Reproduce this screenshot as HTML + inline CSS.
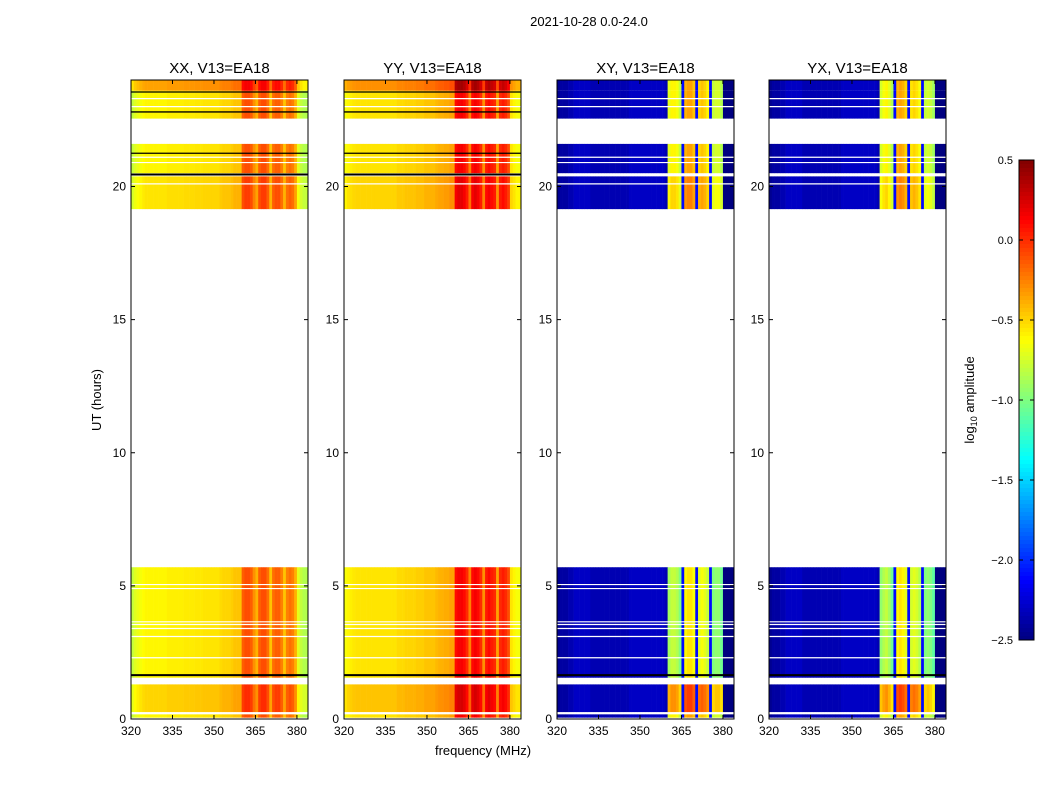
<!DOCTYPE html>
<html><head><meta charset="utf-8"><style>
body{margin:0;background:#fff;}
svg{font-family:"Liberation Sans","DejaVu Sans",sans-serif;}
</style></head><body>
<svg id="fig" width="1050" height="800" xmlns="http://www.w3.org/2000/svg">
<rect width="1050" height="800" fill="#fff"/>
<text x="589" y="26" font-size="13" text-anchor="middle">2021-10-28 0.0-24.0</text>
<text x="483" y="755" font-size="13" text-anchor="middle">frequency (MHz)</text>
<text transform="translate(101,400) rotate(-90)" font-size="13" text-anchor="middle">UT (hours)</text>
<text transform="translate(974,400) rotate(-90)" font-size="13" text-anchor="middle">log<tspan font-size="9" dy="3">10</tspan><tspan dy="-3"> amplitude</tspan></text>
<g id="plots"></g>
</svg>
<script>
// ---- data ----
const freqStart = 320;          // MHz, 1 MHz bins
const xxProfile = [-0.8,-0.72,-0.68,-0.65,-0.62,-0.6,-0.6,-0.6,-0.6,-0.6,-0.6,-0.6,-0.6,-0.58,-0.58,-0.58,-0.58,-0.58,-0.58,-0.57,-0.57,-0.57,-0.57,-0.56,-0.56,-0.56,-0.55,-0.55,-0.55,-0.55,-0.55,-0.55,-0.52,-0.5,-0.5,-0.5,-0.48,-0.45,-0.45,-0.45,-0.15,-0.1,-0.1,-0.15,-0.3,-0.4,-0.15,-0.1,-0.1,-0.2,-0.45,-0.2,-0.15,-0.15,-0.25,-0.45,-0.25,-0.2,-0.25,-0.4,-0.7,-0.8,-0.85,-0.85];
const yyProfile = [-0.65,-0.6,-0.58,-0.56,-0.55,-0.55,-0.55,-0.55,-0.55,-0.55,-0.55,-0.55,-0.55,-0.55,-0.55,-0.55,-0.55,-0.55,-0.55,-0.52,-0.52,-0.52,-0.5,-0.5,-0.5,-0.5,-0.48,-0.48,-0.48,-0.45,-0.45,-0.45,-0.45,-0.42,-0.4,-0.4,-0.38,-0.38,-0.35,-0.35,0.1,0.15,0.15,0.1,0.0,-0.25,0.1,0.15,0.1,0.0,-0.3,0.05,0.1,0.05,0.0,-0.35,0.0,0.05,0.0,-0.1,-0.55,-0.6,-0.65,-0.65];
const xyProfile = [-2.45,-2.4,-2.4,-2.4,-2.35,-2.35,-2.3,-2.3,-2.3,-2.3,-2.3,-2.3,-2.35,-2.35,-2.35,-2.35,-2.35,-2.35,-2.35,-2.35,-2.35,-2.35,-2.35,-2.35,-2.35,-2.35,-2.3,-2.3,-2.3,-2.3,-2.3,-2.3,-2.3,-2.3,-2.3,-2.3,-2.3,-2.3,-2.3,-2.35,-0.8,-0.7,-0.7,-0.75,-0.9,-2.1,-0.5,-0.45,-0.45,-0.55,-2.1,-0.6,-0.55,-0.6,-0.7,-2.1,-0.9,-0.85,-0.85,-0.95,-2.5,-2.5,-2.5,-2.5];
const yxProfile = [-2.45,-2.4,-2.4,-2.4,-2.35,-2.35,-2.3,-2.3,-2.3,-2.3,-2.3,-2.3,-2.35,-2.35,-2.35,-2.35,-2.35,-2.35,-2.35,-2.35,-2.35,-2.35,-2.35,-2.35,-2.35,-2.35,-2.3,-2.3,-2.3,-2.3,-2.3,-2.3,-2.3,-2.3,-2.3,-2.3,-2.3,-2.3,-2.3,-2.35,-0.85,-0.75,-0.7,-0.8,-0.95,-2.1,-0.5,-0.45,-0.5,-0.6,-2.1,-0.65,-0.6,-0.65,-0.75,-2.1,-0.9,-0.85,-0.9,-1.0,-2.5,-2.5,-2.5,-2.5];
const segStart = [0.05,0.26,1.55,19.15,20.5,22.55,23.6];
const segEnd   = [0.18,1.3,5.7,20.38,21.6,23.6,24.0];
const segOffsetAuto  = [0.0,0.1,0.0,0.05,0.0,0.0,0.25];
const segOffsetCross = [0.1,0.4,-0.1,0.2,0.1,0.1,0.1];
const whiteLines = [0.2,2.3,3.1,3.4,3.55,3.65,4.9,5.05,20.1,20.9,21.1,23.0,23.3];
const blackLinesAuto = [1.65,20.45,21.25,22.8,23.55];
const blackLinesCross = [1.65];
const xTicks = [320,335,350,365,380];
const yTicks = [0,5,10,15,20];
const cbTicks = [0.5,0.0,-0.5,-1.0,-1.5,-2.0,-2.5];
const panelTitles = ["XX, V13=EA18","YY, V13=EA18","XY, V13=EA18","YX, V13=EA18"];
const panelLefts = [131,344,557,769];

// ---- helpers ----
const NS="http://www.w3.org/2000/svg";
const W=177, TOP=80, BOT=719, F0=320, F1=384, VMIN=-2.5, VMAX=0.5;
function xs(left,f){return left+(f-F0)/(F1-F0)*W;}
function ys(h){return BOT-(h/24)*(BOT-TOP);}
function jet(v){
  let t=(v-VMIN)/(VMAX-VMIN); t=Math.max(0,Math.min(1,t));
  const c=x=>Math.round(255*Math.max(0,Math.min(1,x)));
  const r=c(Math.min(4*t-1.5,-4*t+4.5)), g=c(Math.min(4*t-0.5,-4*t+3.5)), b=c(Math.min(4*t+0.5,-4*t+2.5));
  return `rgb(${r},${g},${b})`;
}
function mk(tag,attrs,parent){const e=document.createElementNS(NS,tag);for(const k in attrs)e.setAttribute(k,attrs[k]);parent.appendChild(e);return e;}
const root=document.getElementById('plots');
const profiles=[xxProfile,yyProfile,xyProfile,yxProfile];

profiles.forEach((prof,p)=>{
  const L=panelLefts[p];
  const g=mk('g',{},root);
  
  
  const cross=p>=2;
  const offs=cross?segOffsetCross:segOffsetAuto;
  segStart.forEach((s,j)=>{
    const y0=ys(segEnd[j]), y1=ys(s);
    prof.forEach((v,i)=>{
      const val = cross ? (v>-1.5 ? v+offs[j] : v) : v+offs[j];
      const x0=xs(L,freqStart+i), x1=xs(L,freqStart+i+1);
      const r=mk('rect',{x:x0.toFixed(2),y:y0.toFixed(2),width:(x1-x0+0.3).toFixed(2),height:(y1-y0).toFixed(2),fill:jet(val)},g);
      
      
    });
  });
  whiteLines.forEach(h=>{
    const l=mk('line',{x1:L,x2:L+W,y1:ys(h),y2:ys(h),stroke:'#fff','stroke-width':1.2},g);
    
    
  });
  (cross?blackLinesCross:blackLinesAuto).forEach((h,k)=>{
    const l=mk('line',{x1:L,x2:L+W,y1:ys(h),y2:ys(h),stroke:'#000','stroke-width':(k==0||k==1)?2:1.3},g);
    
    
  });
  const fr=mk('rect',{x:L,y:TOP,width:W,height:BOT-TOP,fill:'none',stroke:'#000','stroke-width':1},g);
  
  
  const t=mk('text',{x:L+W/2,y:TOP-7,'font-size':15,'text-anchor':'middle'},g);
  t.textContent=panelTitles[p];
  
  
  xTicks.forEach(f=>{
    const x=xs(L,f);
    mk('line',{x1:x,x2:x,y1:BOT,y2:BOT-4,stroke:'#000'},g);
    mk('line',{x1:x,x2:x,y1:TOP,y2:TOP+4,stroke:'#000'},g);
    const tl=mk('text',{x:x,y:BOT+16,'font-size':12,'text-anchor':'middle'},g);
    tl.textContent=f;
    
    
  });
  yTicks.forEach(h=>{
    const y=ys(h);
    mk('line',{x1:L,x2:L+4,y1:y,y2:y,stroke:'#000'},g);
    mk('line',{x1:L+W,x2:L+W-4,y1:y,y2:y,stroke:'#000'},g);
    const tl=mk('text',{x:L-5,y:y+4,'font-size':12,'text-anchor':'end'},g);
    tl.textContent=h;
    
    
  });
});

// colorbar
const cb=mk('g',{},root);


const CBX=1019,CBW=15,CBT=160,CBB=640,N=120;
for(let k=0;k<N;k++){
  const v=VMAX-(k+0.5)/N*(VMAX-VMIN);
  mk('rect',{x:CBX,y:(CBT+k*(CBB-CBT)/N).toFixed(2),width:CBW,height:((CBB-CBT)/N+0.5).toFixed(2),fill:jet(v)},cb);
}
mk('rect',{x:CBX,y:CBT,width:CBW,height:CBB-CBT,fill:'none',stroke:'#000'},cb);
cbTicks.forEach(v=>{
  const y=CBT+(VMAX-v)/(VMAX-VMIN)*(CBB-CBT);
  mk('line',{x1:CBX,x2:CBX+4,y1:y,y2:y,stroke:'#000'},cb);
  mk('line',{x1:CBX+CBW,x2:CBX+CBW-4,y1:y,y2:y,stroke:'#000'},cb);
  const tl=mk('text',{x:CBX-6,y:y+4,'font-size':11,'text-anchor':'end'},cb);
  tl.textContent=v.toFixed(1).replace('-','−');
  
  
});
</script>
</body></html>
